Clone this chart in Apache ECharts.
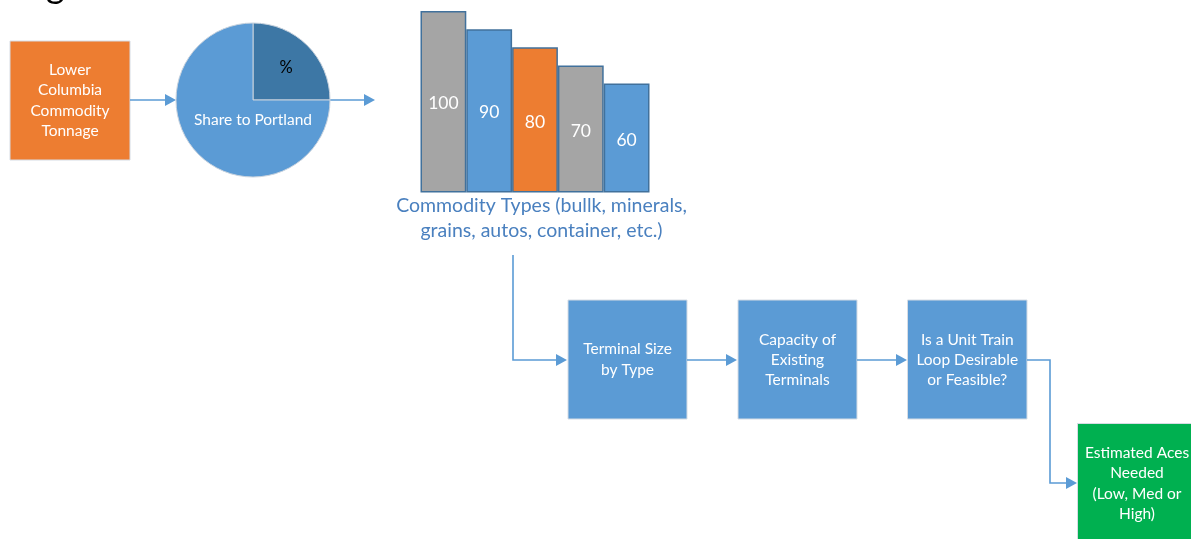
<!DOCTYPE html>
<html>
<head>
<meta charset="utf-8">
<script src="https://cdn.jsdelivr.net/npm/echarts@6/dist/echarts.min.js"></script>
<style>
  html, body { margin: 0; padding: 0; background: #ffffff; }
  #chart { width: 1191px; height: 539px; }
</style>
</head>
<body>
<div id="chart"></div>
<script>
// Commodity volumes by type (relative units)
const commodityTypes = ['bulk', 'minerals', 'grains', 'autos', 'container'];
const commodityValues = [100, 90, 80, 70, 60];
// Share of Lower Columbia tonnage going to Portland vs. elsewhere
const shareNames = ['%', 'Share to Portland'];
const shareValues = [25, 75];

const barColors = ['#A5A5A5', '#5B9BD5', '#ED7D31', '#A5A5A5', '#5B9BD5'];
const FONT = 'Lato, "Open Sans", sans-serif';
const LINE = '#5B9BD5';
const BOX_FONT = '15.5px ' + FONT;

const chart = echarts.init(document.getElementById('chart'), null, { renderer: 'canvas' });

function box(x, y, w, h, fill, text, lineHeight) {
  return [
    { type: 'rect', shape: { x: x, y: y, width: w, height: h },
      style: { fill: fill, stroke: '#D6DCE4', lineWidth: 1 } },
    { type: 'text', x: x + w / 2, y: y + h / 2,
      style: { text: text, fill: '#ffffff', font: BOX_FONT, align: 'center',
               verticalAlign: 'middle', lineHeight: lineHeight } }
  ];
}

function arrowHead(tx, ty) {
  return { type: 'polygon', shape: { points: [[tx, ty], [tx - 11, ty - 6], [tx - 11, ty + 6]] },
           style: { fill: LINE } };
}

function connector(points) {
  const last = points[points.length - 1];
  const shaft = points.slice(0, -1).concat([[last[0] - 10, last[1]]]);
  return [
    { type: 'polyline', shape: { points: shaft }, style: { stroke: LINE, lineWidth: 1.6, fill: null } },
    arrowHead(last[0], last[1])
  ];
}

const graphics = [].concat(
  // heading descender peeking in at the top edge
  [{ type: 'text', x: 46, y: -14, style: { text: 'g', fill: '#000', font: '36px ' + FONT, verticalAlign: 'middle' } }],
  box(10, 41, 120, 119, '#ED7D31', 'Lower\nColumbia\nCommodity\nTonnage', 20.3),
  connector([[130, 100], [176, 100]]),
  connector([[330, 100], [375, 100]]),
  [
    { type: 'text', x: 286, y: 68, z: 10,
      style: { text: shareNames[0], fill: '#000', font: '16.5px ' + FONT, align: 'center', verticalAlign: 'middle' } },
    { type: 'text', x: 253, y: 120, z: 10,
      style: { text: shareNames[1], fill: '#fff', font: BOX_FONT, align: 'center', verticalAlign: 'middle' } },
    { type: 'text', x: 541.5, y: 218.5,
      style: { text: 'Commodity Types (bullk, minerals,\ngrains, autos, container, etc.)', fill: '#4A80BF',
               font: '19.5px ' + FONT, align: 'center', verticalAlign: 'middle', lineHeight: 25 } }
  ],
  connector([[513, 255], [513, 360], [567, 360]]),
  box(568, 300, 119, 119, '#5B9BD5', 'Terminal Size\nby Type', 21),
  connector([[687, 360], [737, 360]]),
  box(738, 300, 119, 119, '#5B9BD5', 'Capacity of\nExisting\nTerminals', 20),
  connector([[857, 360], [907, 360]]),
  box(907.5, 300, 119.5, 119, '#5B9BD5', 'Is a Unit Train\nLoop Desirable\nor Feasible?', 20),
  connector([[1027, 360], [1050, 360], [1050, 483], [1077, 483]]),
  box(1077.5, 423.5, 120, 130, '#00B050', '', 20),
  [{ type: 'text', x: 1137, y: 483.5,
     style: { text: 'Estimated Aces\nNeeded\n(Low, Med or\nHigh)', fill: '#fff', font: BOX_FONT,
              align: 'center', verticalAlign: 'middle', lineHeight: 20.3 } }]
);

chart.setOption({
  animation: false,
  backgroundColor: '#ffffff',
  grid: { left: 420.5, top: 11, width: 229, height: 181.5 },
  xAxis: { type: 'category', data: commodityTypes, show: false },
  yAxis: { type: 'value', min: 0, max: 100, show: false },
  series: [
    {
      type: 'bar',
      data: commodityValues.map((v, i) => ({ value: v, itemStyle: { color: barColors[i] } })),
      barCategoryGap: '0%',
      itemStyle: { borderColor: '#41719C', borderWidth: 1.5 },
      label: { show: true, position: 'inside', offset: [0, 2], color: '#fff', fontSize: 17.5, fontFamily: FONT },
      silent: true
    },
    {
      type: 'pie',
      center: [253, 100],
      radius: 77,
      startAngle: 90,
      clockwise: true,
      silent: true,
      label: { show: false },
      labelLine: { show: false },
      data: shareNames.map((n, i) => ({
        name: n, value: shareValues[i],
        itemStyle: { color: i === 0 ? '#3D77A5' : '#5B9BD5', borderColor: '#C9D3DE', borderWidth: 1 }
      }))
    }
  ],
  graphic: graphics
});
</script>
</body>
</html>
